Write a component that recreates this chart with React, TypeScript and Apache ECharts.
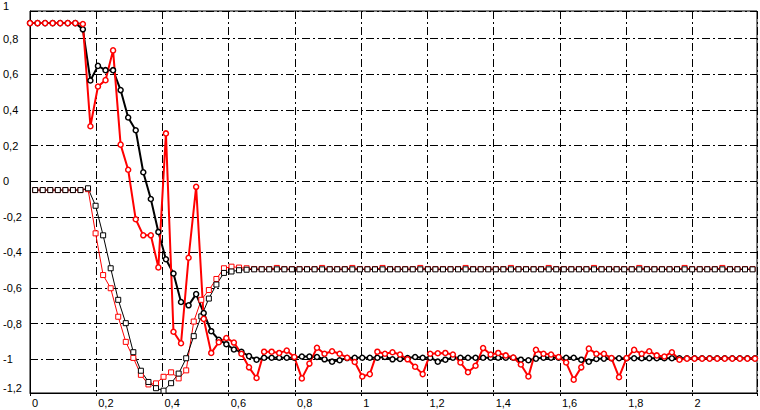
import React, { useEffect, useRef } from "react";
import * as echarts from "echarts";

// sample positions of the thick (circle-marker) curves
const thickX = [
  0, 0.0228, 0.0456, 0.0684, 0.0912, 0.114, 0.1368, 0.1596, 0.1824, 0.2052,
  0.228, 0.2508, 0.2736, 0.2964, 0.3192, 0.342, 0.3648, 0.3876, 0.4104, 0.4332,
  0.456, 0.4788, 0.5016, 0.5244, 0.5472, 0.57, 0.5928, 0.6156, 0.6384, 0.6612,
  0.684, 0.7068, 0.7296, 0.7524, 0.7752, 0.798, 0.8208, 0.8436, 0.8664, 0.8892,
  0.912, 0.9348, 0.9576, 0.9804, 1.0032, 1.026, 1.0488, 1.0716, 1.0944, 1.1172,
  1.14, 1.1628, 1.1856, 1.2084, 1.2312, 1.254, 1.2768, 1.2996, 1.3224, 1.3452,
  1.368, 1.3908, 1.4136, 1.4364, 1.4592, 1.482, 1.5048, 1.5276, 1.5504, 1.5732,
  1.596, 1.6188, 1.6416, 1.6644, 1.6872, 1.71, 1.7328, 1.7556, 1.7784, 1.8012,
  1.824, 1.8468, 1.8696, 1.8924, 1.9152, 1.938, 1.9608, 1.9836, 2.0064, 2.0292,
  2.052, 2.0748, 2.0976, 2.1204, 2.1432, 2.166, 2.1888,
];

// sample positions of the thin (square-marker) curves
const thinX = [
  0.0156, 0.0384, 0.0612, 0.084, 0.1068, 0.1296, 0.1524, 0.1752, 0.198, 0.2208,
  0.2436, 0.2664, 0.2892, 0.312, 0.3348, 0.3576, 0.3804, 0.4032, 0.426, 0.4488,
  0.4716, 0.4944, 0.5172, 0.54, 0.5628, 0.5856, 0.6084, 0.6312, 0.654, 0.6768,
  0.6996, 0.7224, 0.7452, 0.768, 0.7908, 0.8136, 0.8364, 0.8592, 0.882, 0.9048,
  0.9276, 0.9504, 0.9732, 0.996, 1.0188, 1.0416, 1.0644, 1.0872, 1.11, 1.1328,
  1.1556, 1.1784, 1.2012, 1.224, 1.2468, 1.2696, 1.2924, 1.3152, 1.338, 1.3608,
  1.3836, 1.4064, 1.4292, 1.452, 1.4748, 1.4976, 1.5204, 1.5432, 1.566, 1.5888,
  1.6116, 1.6344, 1.6572, 1.68, 1.7028, 1.7256, 1.7484, 1.7712, 1.794, 1.8168,
  1.8396, 1.8624, 1.8852, 1.908, 1.9308, 1.9536, 1.9764, 1.9992, 2.022, 2.0448,
  2.0676, 2.0904, 2.1132, 2.136, 2.1588, 2.1816,
];

const redThick = [
  0.887, 0.887, 0.887, 0.887, 0.887, 0.887, 0.887, 0.882, 0.308, 0.531,
  0.567, 0.734, 0.205, 0.064, -0.214, -0.304, -0.304, -0.484, 0.268, -0.845,
  -0.91, -0.43, -0.032, -0.773, -0.964, -0.904, -0.88, -0.906, -0.969, -1.045,
  -1.105, -0.957, -0.957, -0.964, -0.951, -0.987, -1.107, -1.024, -0.935, -0.969,
  -0.955, -0.969, -0.991, -1.015, -1.096, -1.083, -0.957, -0.969, -0.96, -0.973,
  -1.0, -1.042, -1.083, -0.969, -0.966, -0.964, -0.973, -1.018, -1.072, -1.036,
  -0.937, -0.973, -0.964, -0.978, -0.99, -1.029, -1.096, -0.947, -0.969, -0.973,
  -0.987, -1.018, -1.114, -1.045, -0.94, -0.969, -0.969, -0.993, -1.1, -0.993,
  -0.947, -0.969, -0.955, -0.978, -0.984, -0.96, -1.002, -0.996, -0.996, -0.996,
  -0.996, -0.996, -0.996, -0.996, -0.996, -0.996, -0.996,
];

const blackThick = [
  0.887, 0.887, 0.887, 0.887, 0.887, 0.887, 0.887, 0.852, 0.565, 0.647,
  0.623, 0.623, 0.511, 0.357, 0.286, 0.05, -0.1, -0.285, -0.438, -0.518,
  -0.678, -0.697, -0.634, -0.74, -0.842, -0.89, -0.915, -0.945, -0.958, -0.982,
  -1.002, -0.991, -0.991, -0.991, -0.991, -0.991, -0.984, -0.984, -0.987, -1.0,
  -1.013, -1.005, -0.993, -0.991, -0.991, -0.991, -0.991, -0.987, -1.0, -0.998,
  -0.993, -0.987, -0.991, -0.991, -1.013, -1.002, -0.991, -0.991, -0.991, -0.991,
  -0.991, -0.991, -0.991, -0.991, -0.991, -1.002, -1.005, -0.996, -0.991, -0.991,
  -0.991, -0.991, -0.991, -1.002, -1.013, -0.998, -0.996, -0.994, -0.994, -0.994,
  -0.994, -0.994, -0.994, -0.994, -0.994, -0.994, -0.994, -0.994, -0.994, -0.994,
  -0.994, -0.994, -0.994, -0.994, -0.994, -0.994, -0.994,
];

const redThin = [
  -0.05, -0.05, -0.05, -0.05, -0.05, -0.05, -0.05, -0.045, -0.293, -0.527,
  -0.601, -0.761, -0.902, -0.992, -1.087, -1.141, -1.135, -1.098, -1.073, -1.107,
  -1.062, -0.788, -0.666, -0.611, -0.549, -0.489, -0.48, -0.485, -0.489, -0.493,
  -0.493, -0.493, -0.487, -0.493, -0.493, -0.493, -0.493, -0.493, -0.487, -0.493,
  -0.493, -0.493, -0.487, -0.493, -0.493, -0.493, -0.487, -0.493, -0.493, -0.493,
  -0.493, -0.487, -0.493, -0.493, -0.493, -0.493, -0.493, -0.487, -0.493, -0.493,
  -0.493, -0.493, -0.493, -0.487, -0.493, -0.493, -0.493, -0.493, -0.487, -0.493,
  -0.493, -0.493, -0.493, -0.493, -0.487, -0.493, -0.493, -0.493, -0.493, -0.493,
  -0.487, -0.493, -0.493, -0.493, -0.493, -0.493, -0.487, -0.493, -0.493, -0.493,
  -0.493, -0.487, -0.493, -0.493, -0.493, -0.493,
];

const blackThin = [
  -0.05, -0.05, -0.05, -0.05, -0.05, -0.05, -0.05, -0.04, -0.138, -0.304,
  -0.489, -0.666, -0.797, -0.96, -1.064, -1.127, -1.162, -1.176, -1.134, -1.08,
  -0.994, -0.87, -0.759, -0.659, -0.58, -0.515, -0.507, -0.5, -0.497, -0.495,
  -0.495, -0.495, -0.495, -0.495, -0.495, -0.495, -0.495, -0.495, -0.495, -0.495,
  -0.495, -0.495, -0.495, -0.495, -0.495, -0.495, -0.495, -0.495, -0.495, -0.495,
  -0.495, -0.495, -0.495, -0.495, -0.495, -0.495, -0.495, -0.495, -0.495, -0.495,
  -0.495, -0.495, -0.495, -0.495, -0.495, -0.495, -0.495, -0.495, -0.495, -0.495,
  -0.495, -0.495, -0.495, -0.495, -0.495, -0.495, -0.495, -0.495, -0.495, -0.495,
  -0.495, -0.495, -0.495, -0.495, -0.495, -0.495, -0.495, -0.495, -0.495, -0.495,
  -0.495, -0.495, -0.495, -0.495, -0.495, -0.495,
];

const X_MIN = 0;
const X_MAX = 2.195;
const X_STEP = 0.2;
const Y_MIN = -1.189;
const Y_MAX = 0.955;

const FONT = "Liberation Sans";
const GRID_DASH = [8, 3, 2, 3];

function fmtNum(v: number): string {
  const r = Math.round(v * 10) / 10;
  return String(r).replace(".", ",");
}

function pairs(xs: number[], ys: number[]) {
  return xs.map((x, i) => [x, ys[i]]);
}

export default function App() {
  const ref = useRef<HTMLDivElement>(null);

  useEffect(() => {
    if (!ref.current) return;
    const chart = echarts.init(ref.current, null, { renderer: "svg" });

    const thickSeries = (name: string, color: string, ys: number[]) => ({
      name,
      type: "line",
      data: pairs(thickX, ys),
      symbol: "circle",
      symbolSize: 5,
      lineStyle: { color, width: 2 },
      itemStyle: { color: "#fff", borderColor: color, borderWidth: 1.5 },
      emphasis: { disabled: true },
    });
    const thinSeries = (name: string, color: string, ys: number[]) => ({
      name,
      type: "line",
      data: pairs(thinX, ys),
      symbol: "rect",
      symbolSize: 5,
      lineStyle: { color, width: 1 },
      itemStyle: { color: "#fff", borderColor: color, borderWidth: 1 },
      emphasis: { disabled: true },
    });

    chart.setOption({
      animation: false,
      backgroundColor: "#fff",
      grid: {
        left: 29,
        top: 0,
        width: 730,
        height: 393,
        show: true,
        borderColor: "#000",
        borderWidth: 1,
        containLabel: false,
      },
      xAxis: {
        type: "value",
        min: X_MIN,
        max: X_MAX,
        interval: X_STEP,
        axisLine: { show: true, onZero: false, lineStyle: { color: "#000", width: 1 } },
        axisTick: { show: true, length: 3, lineStyle: { color: "#000" } },
        splitLine: {
          show: true,
          lineStyle: { color: "#000", width: 1, type: GRID_DASH },
        },
        axisLabel: {
          color: "#000",
          fontFamily: FONT,
          fontSize: 11,
          align: "left",
          margin: 4,
          padding: [0, 0, 0, 2],
          formatter: (v: number) => {
            const k = v / X_STEP;
            if (Math.abs(k - Math.round(k)) > 1e-6) return "";
            return fmtNum(v);
          },
        },
      },
      yAxis: {
        type: "value",
        min: Y_MIN,
        max: Y_MAX,
        splitNumber: 10,
        axisLine: { show: true, onZero: false, lineStyle: { color: "#000", width: 1 } },
        axisTick: { show: true, inside: true, length: 4, lineStyle: { color: "#000" } },
        splitLine: {
          show: true,
          lineStyle: { color: "#000", width: 1, type: GRID_DASH },
        },
        axisLabel: {
          color: "#000",
          fontFamily: FONT,
          fontSize: 11,
          align: "left",
          verticalAlign: "middle",
          margin: 27,
          padding: [8, 0, 0, 0],
          formatter: (v: number) => {
            // end labels sit one line higher than the others
            if (Math.abs(v - Y_MIN) < 1e-9 || Math.abs(v - Y_MAX) < 1e-9) {
              return fmtNum(v) + "\n ";
            }
            return fmtNum(v);
          },
        },
      },
      series: [
        thinSeries("red-thin", "#ff0000", redThin),
        thinSeries("black-thin", "#000000", blackThin),
        thickSeries("black-thick", "#000000", blackThick),
        thickSeries("red-thick", "#ff0000", redThick),
      ],
    });

    return () => {
      chart.dispose();
    };
  }, []);

  return (
    <div
      ref={ref}
      style={{ position: "absolute", left: 0, top: 0, width: 760, height: 410, background: "#fff" }}
    />
  );
}
